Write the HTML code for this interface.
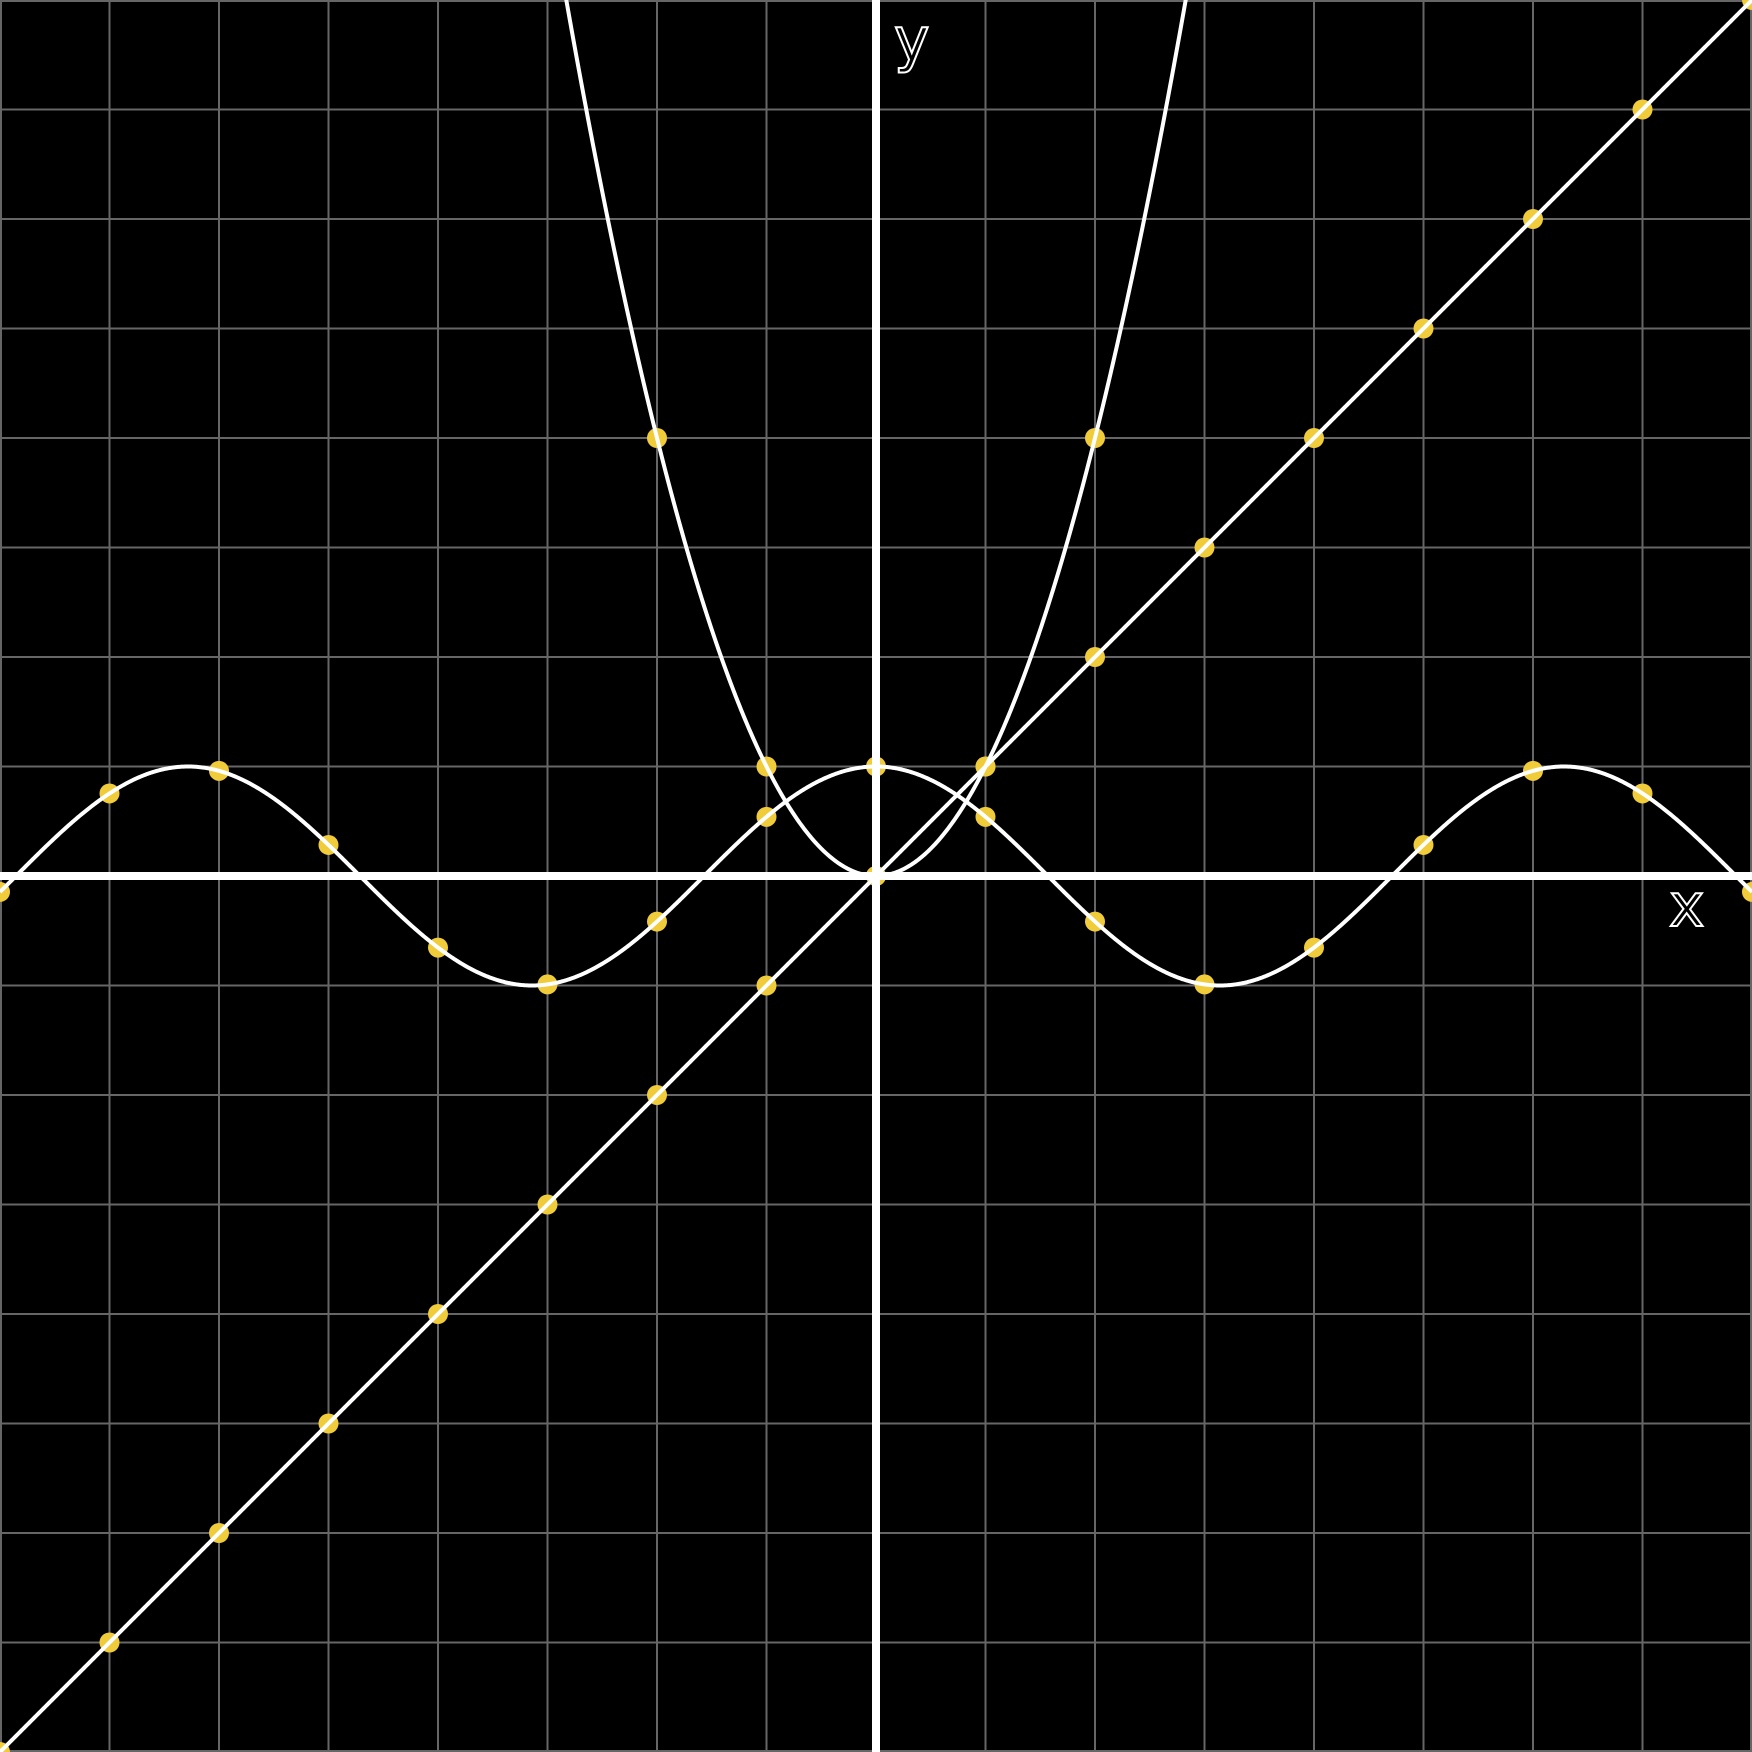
<!DOCTYPE html>
<html><head><meta charset="utf-8"><style>html,body{margin:0;padding:0;background:#000}svg{display:block}</style></head>
<body>
<svg id="chart" width="1752" height="1752" viewBox="0 0 1752 1752" xmlns="http://www.w3.org/2000/svg">
<rect width="1752" height="1752" fill="#000"/>
<g id="grid"></g>
<g id="dots"></g>
<g id="axes"></g>
<g id="curves"></g>
<text x="894" y="60" font-family="'DejaVu Sans','Liberation Sans',sans-serif" font-size="60" fill="#000" stroke="#fff" stroke-width="2">y</text>
<text x="1669" y="926" font-family="'DejaVu Sans','Liberation Sans',sans-serif" font-size="60" fill="#000" stroke="#fff" stroke-width="2">x</text>
</svg>
<script>
const xTicks = [-8,-7,-6,-5,-4,-3,-2,-1,0,1,2,3,4,5,6,7,8];
const linePointsX = [-8,-7,-6,-5,-4,-3,-2,-1,0,1,2,3,4,5,6,7,8];
const parabolaPointsX = [-2,-1,0,1,2];
const cosPointsX = [-8,-7,-6,-5,-4,-3,-2,-1,0,1,2,3,4,5,6,7,8];
const domain = [-8,8];

const NS = "http://www.w3.org/2000/svg";
const W = 1752, cell = W/16;
const sx = x => W/2 + x*cell;
const sy = y => W/2 - y*cell;
function mk(tag, attrs, parent){const e=document.createElementNS(NS,tag);for(const k in attrs)e.setAttribute(k,attrs[k]);parent.appendChild(e);return e;}

const grid=document.getElementById('grid');
xTicks.forEach(t=>{
  let p=Math.min(Math.max(sx(t),1),W-1);
  const v=mk('line',{x1:p,y1:0,x2:p,y2:W,stroke:'#666','stroke-width':2},grid);
  
  
  let q=Math.min(Math.max(sy(t),1),W-1);
  const h=mk('line',{x1:0,y1:q,x2:W,y2:q,stroke:'#666','stroke-width':2},grid);
  
  
});

const dots=document.getElementById('dots');
function dot(x,y,name){
  const c=mk('circle',{cx:sx(x),cy:sy(y),r:10,fill:'#f0cc3a'},dots);
  
  
}
linePointsX.forEach(x=>dot(x,x,'line-point'));
parabolaPointsX.forEach(x=>dot(x,x*x,'parabola-point'));
cosPointsX.forEach(x=>dot(x,Math.cos(x),'cosine-point'));

const axes=document.getElementById('axes');
const xa=mk('line',{x1:0,y1:sy(0),x2:W,y2:sy(0),stroke:'#fff','stroke-width':8},axes);


const ya=mk('line',{x1:sx(0),y1:0,x2:sx(0),y2:W,stroke:'#fff','stroke-width':8},axes);



const curves=document.getElementById('curves');
function curve(f,name){
  let d='';
  for(let i=0;i<=1600;i++){const x=domain[0]+(domain[1]-domain[0])*i/1600;const y=f(x);if(y>9)continue;d+=(d?'L':'M')+sx(x).toFixed(2)+' '+sy(y).toFixed(2);}
  const p=mk('path',{d:d,fill:'none',stroke:'#fff','stroke-width':4},curves);
  
  
}
curve(x=>x,'line-y-equals-x');
curve(x=>x*x,'parabola-y-equals-x-squared');
curve(x=>Math.cos(x),'cosine-curve');
</script>
</body></html>
